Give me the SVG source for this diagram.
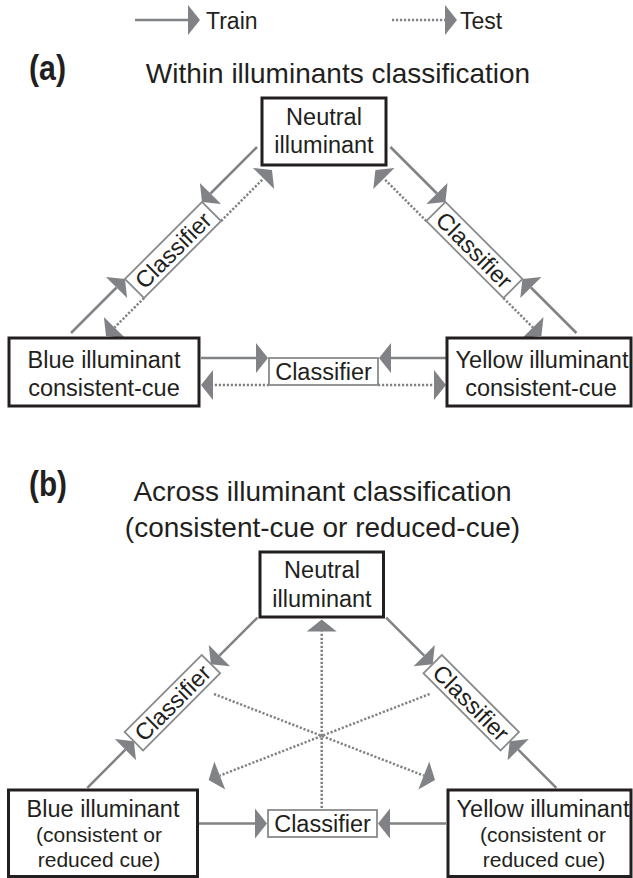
<svg xmlns="http://www.w3.org/2000/svg" width="633" height="878" viewBox="0 0 633 878">
<style>
text{font-family:"Liberation Sans",Arial,sans-serif;fill:#231f20}
.node{fill:#fff;stroke:#231f20;stroke-width:3}
.clf{fill:#fff;stroke:#888a8c;stroke-width:1.8}
.nt{font-size:23.5px;text-anchor:middle}
.st{font-size:21px;text-anchor:middle}
.ttl{font-size:28px;text-anchor:middle}
.lbl{font-size:35px;font-weight:bold}
.leg{font-size:23px}
.tr{fill:none;stroke:#808285;stroke-width:2.5;marker-end:url(#ah)}
.te{fill:none;stroke:#808285;stroke-width:2.5;stroke-dasharray:2.2 1.8;marker-end:url(#ah)}
</style>
<defs>
<marker id="ah" markerUnits="userSpaceOnUse" viewBox="0 -16 13 32" refX="0" refY="0" markerWidth="13" markerHeight="32" orient="auto" overflow="visible">
<path d="M0,-15 L12,0 L0,15 Z" fill="#808285"/>
</marker>
</defs>
<rect width="633" height="878" fill="#fff"/>

<g id="legend">
<line class="tr" x1="135" y1="20" x2="188" y2="20"/>
<text class="leg" x="206" y="29">Train</text>
<line class="te" x1="392" y1="20" x2="445" y2="20"/>
<text class="leg" x="460" y="29">Test</text>
</g>

<g id="titles">
<text class="lbl" x="29" y="80" textLength="37" lengthAdjust="spacingAndGlyphs">(a)</text>
<text class="ttl" x="338" y="83">Within illuminants classification</text>
<text class="lbl" x="29" y="496" textLength="38" lengthAdjust="spacingAndGlyphs">(b)</text>
<text class="ttl" x="322.5" y="501">Across illuminant classification</text>
<text class="ttl" x="322.5" y="537">(consistent-cue or reduced-cue)</text>
</g>

<g id="connectors">
<!-- panel a horizontal -->
<line class="tr" x1="201" y1="358" x2="256" y2="358"/>
<line class="tr" x1="446" y1="358" x2="391" y2="358"/>
<line class="te" x1="269" y1="385" x2="213" y2="385"/>
<line class="te" x1="378" y1="385" x2="434" y2="385"/>
<!-- panel a left diagonal -->
<line class="tr" x1="257" y1="147" x2="210.5" y2="193.5"/>
<line class="tr" x1="71" y1="333" x2="116.5" y2="287.5"/>
<line class="te" x1="221.1" y1="221" x2="263.5" y2="178.5"/>
<line class="te" x1="144" y1="298" x2="114.5" y2="327.5"/>
<!-- panel a right diagonal -->
<line class="tr" x1="390.4" y1="147" x2="436.9" y2="193.5"/>
<line class="tr" x1="576.4" y1="333" x2="530.9" y2="287.5"/>
<line class="te" x1="426.3" y1="221" x2="383.9" y2="178.5"/>
<line class="te" x1="503.4" y1="298" x2="532.9" y2="327.5"/>
<!-- panel b -->
<line class="tr" x1="199" y1="823.5" x2="255" y2="823.5"/>
<line class="tr" x1="446" y1="823.5" x2="390" y2="823.5"/>
<line class="tr" x1="257.5" y1="617.6" x2="219.4" y2="655.7"/>
<line class="tr" x1="87.3" y1="787.8" x2="125.4" y2="749.7"/>
<line class="tr" x1="386.1" y1="617.6" x2="424.2" y2="655.7"/>
<line class="tr" x1="556.3" y1="787.8" x2="518.2" y2="749.7"/>
<line class="te" x1="321.7" y1="808" x2="321.7" y2="631.5"/>
<line class="te" x1="214" y1="694" x2="423.8" y2="775.6"/>
<line class="te" x1="429.6" y1="694" x2="219.8" y2="775.6"/>
</g>

<g id="a-neutral">
<rect class="node" x="262" y="98" width="124" height="67"/>
<text class="nt" x="324" y="125">Neutral</text>
<text class="nt" x="324" y="153">illuminant</text>
</g>
<g id="a-blue">
<rect class="node" x="9" y="338" width="190" height="68"/>
<text class="nt" x="104" y="368">Blue illuminant</text>
<text class="nt" x="104" y="396">consistent-cue</text>
</g>
<g id="a-yellow">
<rect class="node" x="447" y="338" width="184" height="68"/>
<text class="nt" x="542" y="368">Yellow illuminant</text>
<text class="nt" x="541" y="396">consistent-cue</text>
</g>
<g id="a-classifier-mid">
<rect class="clf" x="269" y="358" width="109" height="27"/>
<text class="nt" x="323.5" y="380">Classifier</text>
</g>
<g id="a-classifier-left" transform="translate(173,250) rotate(-45)">
<rect class="clf" x="-54.5" y="-13.5" width="109" height="27"/>
<text class="nt" x="0" y="8.5">Classifier</text>
</g>
<g id="a-classifier-right" transform="translate(474.4,250) rotate(45)">
<rect class="clf" x="-54.5" y="-13.5" width="109" height="27"/>
<text class="nt" x="0" y="8.5">Classifier</text>
</g>

<g id="b-neutral">
<rect class="node" x="260" y="552" width="123.5" height="65"/>
<text class="nt" x="322" y="578">Neutral</text>
<text class="nt" x="322" y="607">illuminant</text>
</g>
<g id="b-blue">
<rect class="node" x="8.5" y="790" width="189" height="86.5"/>
<text class="nt" x="103" y="817">Blue illuminant</text>
<text class="st" x="99" y="842">(consistent or</text>
<text class="st" x="99" y="867">reduced cue)</text>
</g>
<g id="b-yellow">
<rect class="node" x="448" y="790" width="183" height="86.5"/>
<text class="nt" x="543" y="817">Yellow illuminant</text>
<text class="st" x="543" y="842">(consistent or</text>
<text class="st" x="544" y="867">reduced cue)</text>
</g>
<g id="b-classifier-mid">
<rect class="clf" x="268" y="810" width="109" height="27"/>
<text class="nt" x="322.5" y="832">Classifier</text>
</g>
<g id="b-classifier-left" transform="translate(172.4,702.7) rotate(-45)">
<rect class="clf" x="-54.5" y="-13" width="109" height="26"/>
<text class="nt" x="0" y="8.5">Classifier</text>
</g>
<g id="b-classifier-right" transform="translate(471.2,702.7) rotate(45)">
<rect class="clf" x="-54.5" y="-13" width="109" height="26"/>
<text class="nt" x="0" y="8.5">Classifier</text>
</g>
</svg>
